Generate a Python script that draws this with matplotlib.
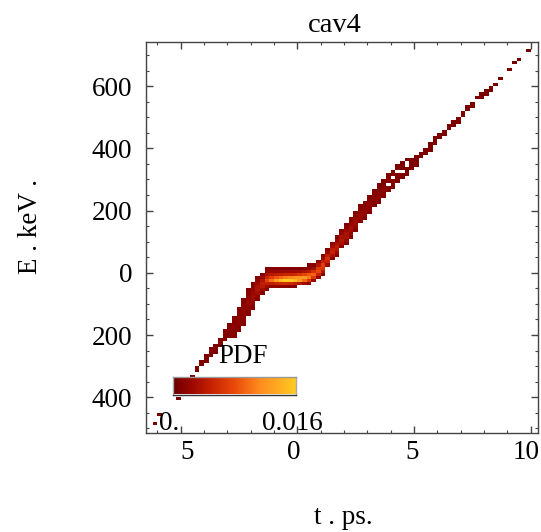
import numpy as np
import matplotlib
matplotlib.use("Agg")
import matplotlib.pyplot as plt
from matplotlib.colors import LinearSegmentedColormap
from matplotlib.ticker import MultipleLocator

plt.rcParams['font.family'] = ['Liberation Serif', 'DejaVu Serif']

# histogram columns: t bin centre [ps], lower edge of first E bin [keV], PDF values (x1e-3) upwards in 10 keV bins
col_t = [-6.1, -5.9, -5.1, -4.9, -4.7, -4.5, -4.3, -4.1, -3.9, -3.7, -3.5, -3.3, -3.1, -2.9, -2.7,
         -2.5, -2.3, -2.1, -1.9, -1.7, -1.5, -1.3, -1.1, -0.9, -0.7, -0.5, -0.3, -0.1, 0.1, 0.3,
         0.5, 0.7, 0.9, 1.1, 1.3, 1.5, 1.7, 1.9, 2.1, 2.3, 2.5, 2.7, 2.9, 3.1, 3.3,
         3.5, 3.7, 3.9, 4.1, 4.3, 4.5, 4.7, 4.9, 5.1, 5.3, 5.5, 5.7, 5.9, 6.1, 6.3,
         6.5, 6.7, 6.9, 7.1, 7.3, 7.5, 7.7, 7.9, 8.1, 8.3, 8.5, 8.7, 9.1, 9.3, 9.5, 9.9]
col_e0 = [-490, -460, -410, -390, -360, -340, -320, -300, -290, -270, -260, -240, -220, -210, -210,
          -190, -170, -140, -120, -90, -70, -60, -50, -50, -50, -50, -50, -50, -40, -40,
          -40, -30, -20, -10, 20, 40, 50, 80, 90, 110, 130, 160, 170, 190, 210,
          220, 240, 260, 270, 290, 300, 310, 330, 340, 370, 380, 390, 410, 430, 440,
          460, 470, 480, 500, 520, 530, 560, 560, 570, 580, 600, 620, 650, 670, 680, 710]
col_vals = [
    [0.6], [0.6], [0.6], [0.6], [0.7], [0.8], [0.8, 0.8], [0.8, 0.9],
    [0.8, 1.0, 0.8], [0.8, 1.0, 0.8], [0.9, 1.0, 0.8], [0.9, 1.1, 1.0],
    [1.0, 1.2, 1.2, 1.0], [1.0, 1.2, 1.4, 1.2, 1.0],
    [0.9, 1.1, 1.3, 1.5, 1.4, 1.2, 1.0],
    [1.0, 1.2, 1.5, 1.7, 1.6, 1.4, 1.2, 1.0],
    [1.0, 1.2, 1.5, 1.8, 2.0, 1.8, 1.5, 1.2, 1.0],
    [1.0, 1.3, 1.7, 2.1, 2.3, 2.0, 1.6, 1.3, 1.0],
    [1.0, 1.5, 2.0, 2.6, 2.8, 2.4, 1.9, 1.4, 1.0],
    [1.2, 2.0, 3.0, 3.6, 3.2, 2.4, 1.6, 1.1],
    [1.3, 2.8, 4.2, 4.6, 3.6, 2.4, 1.3],
    [1.2, 2.6, 4.8, 7.5, 5.5, 3.4, 2.0, 1.2],
    [1.8, 4.6, 10.0, 7.0, 4.0, 2.2, 1.2],
    [1.8, 5.2, 12.5, 8.5, 4.4, 2.2, 1.2],
    [1.6, 5.6, 14.5, 9.5, 4.8, 2.3, 1.1],
    [1.5, 5.8, 16.0, 10.5, 5.0, 2.3, 1.1],
    [1.3, 5.4, 15.5, 11.0, 5.2, 2.4, 1.1],
    [1.1, 4.8, 14.5, 11.5, 5.6, 2.5, 1.2],
    [3.8, 12.5, 12.0, 6.4, 2.8, 1.3],
    [2.8, 9.5, 12.5, 7.6, 3.4, 1.4],
    [1.8, 6.5, 10.5, 8.8, 4.4, 1.8, 1.0],
    [2.6, 6.8, 9.2, 6.0, 2.8, 1.3],
    [2.0, 5.0, 7.8, 7.0, 3.8, 1.8],
    [1.6, 3.8, 6.6, 7.2, 4.8, 2.4, 1.2],
    [2.6, 5.0, 6.0, 4.4, 2.4, 1.2],
    [1.6, 3.4, 5.0, 4.6, 3.0, 1.6],
    [1.2, 2.6, 4.0, 4.4, 3.2, 2.0, 1.1],
    [1.6, 3.0, 3.8, 3.2, 2.0, 1.2],
    [1.2, 2.2, 3.2, 3.4, 2.6, 1.6, 1.0],
    [1.2, 2.0, 2.8, 3.0, 2.4, 1.6, 1.0],
    [1.1, 1.8, 2.6, 2.7, 2.2, 1.5, 1.0],
    [1.4, 2.2, 2.4, 2.0, 1.4, 1.0],
    [1.2, 1.8, 2.1, 1.9, 1.4, 1.0],
    [1.1, 1.6, 1.9, 1.7, 1.3, 0.9],
    [1.0, 1.4, 1.7, 1.6, 1.2, 0.9],
    [0.9, 1.2, 1.5, 1.5, 1.3, 1.0, 0.8],
    [1.0, 1.3, 1.4, 1.2, 0.9, 0.8],
    [0.9, 1.2, 0, 1.2, 1.0, 0.8],
    [0.9, 1.1, 1.1, 0, 1.0, 0.8],
    [0.8, 1.0, 1.0, 0, 0.9, 0.8],
    [0.8, 0.9, 0, 0.9, 0.8, 0.8],
    [0.8, 0.9, 0.8, 0, 0, 0.8],
    [0.8, 0.9, 0.9, 0.8],
    [0.8, 0.8, 0.9, 0.8],
    [0.8, 0.8], [0.8, 0.8], [0.8, 0.8, 0.8], [0.8, 0.8, 0.8], [0.8, 0.8], [0.8, 0.8],
    [0.8, 0.8], [0.8, 0.8], [0.8, 0.8], [0.8, 0.8], [0.8, 0.8], [0.8, 0.8],
    [0.7], [0.7, 0.7], [0.7, 0.7], [0.7, 0.7], [0.7], [0.7],
    [0.6], [0.6], [0.6], [0.6],
]

x_ticks = [-5, 0, 5, 10]
x_labels = ['5', '0', '5', '10']
x_label_shift = [7, -4, -2, -5]
y_ticks = [-400, -200, 0, 200, 400, 600]
y_labels = ['400', '200', '0', '200', '400', '600']

t_edges = np.round(np.arange(-6.6, 10.41, 0.2), 2)
e_edges = np.arange(-520, 751, 10)
H = np.zeros((len(e_edges) - 1, len(t_edges) - 1))
for t, e0, vals in zip(col_t, col_e0, col_vals):
    i = int(round((t - t_edges[0]) / 0.2 - 0.5))
    j = (e0 - e_edges[0]) // 10
    H[j:j + len(vals), i] = np.array(vals) / 1000.0
Hm = np.ma.masked_where(H <= 0, H)

cmap = LinearSegmentedColormap.from_list('solar', [
    (0.0, '#5e0000'), (0.05, '#7e0000'), (0.15, '#9a0800'), (0.3, '#c42000'),
    (0.5, '#ea4a0a'), (0.7, '#ff8a1e'), (0.85, '#ffaa22'), (1.0, '#ffcc22')])

fs = 19.5

fig = plt.figure(figsize=(5.41, 5.32), dpi=100)
ax = fig.add_axes([146 / 541, 1 - 433 / 532, 392 / 541, 391.3 / 532])
ax.pcolormesh(t_edges, e_edges, Hm, cmap=cmap, vmin=0, vmax=0.016,
              shading='flat', antialiased=False, linewidth=0)
ax.set_xlim(-6.48, 10.31)
ax.set_ylim(-515, 743)

for s in ax.spines.values():
    s.set_color('#444444')
    s.set_linewidth(1.0)
ax.tick_params(which='both', direction='in', top=True, right=True, color='#444444')
ax.tick_params(which='major', length=5, width=1, labelsize=fs, pad=10)
ax.tick_params(which='minor', length=2.5, width=0.8)
ax.set_xticks(x_ticks)
ax.set_xticklabels([])
ax.xaxis.set_minor_locator(MultipleLocator(1))
ax.set_yticks(y_ticks)
ax.set_yticklabels(y_labels)
ax.yaxis.set_minor_locator(MultipleLocator(50))

for t, lab, dx in zip(x_ticks, x_labels, x_label_shift):
    ax.annotate(lab, xy=(t, 0), xycoords=('data', 'axes fraction'),
                xytext=(dx, -26), textcoords='offset pixels',
                ha='center', va='baseline', fontsize=fs)

fig.text(335 / 541, 1 - 32 / 532, 'cav4', ha='center', va='baseline', fontsize=20.5)
fig.text(343 / 541, 1 - 524 / 532, 't . ps.', ha='center', va='baseline', fontsize=fs)
fig.text(31 / 541, 1 - 226 / 532, 'E . keV .', ha='center', va='center',
         rotation=90, fontsize=fs)

# colour bar inset
cax = fig.add_axes([173.3 / 541, 1 - 394.5 / 532, 122.7 / 541, 17.5 / 532])
cax.imshow(np.linspace(0, 1, 256)[None, :], aspect='auto', cmap=cmap,
           extent=[0, 1, 0, 1])
cax.set_xticks([])
cax.set_yticks([])
cax.spines['top'].set_color('#999999')
cax.spines['bottom'].set_color('#333333')
cax.spines['left'].set_color('#aaaaaa')
cax.spines['right'].set_color('#aaaaaa')
for s in cax.spines.values():
    s.set_linewidth(1.0)

fig.text(243 / 541, 1 - 363 / 532, 'PDF', ha='center', va='baseline', fontsize=fs)
fig.text(169 / 541, 1 - 430 / 532, '0.', ha='center', va='baseline', fontsize=fs)
fig.text(292 / 541, 1 - 430 / 532, '0.016', ha='center', va='baseline', fontsize=fs)

fig.savefig('out.png', dpi=100)
